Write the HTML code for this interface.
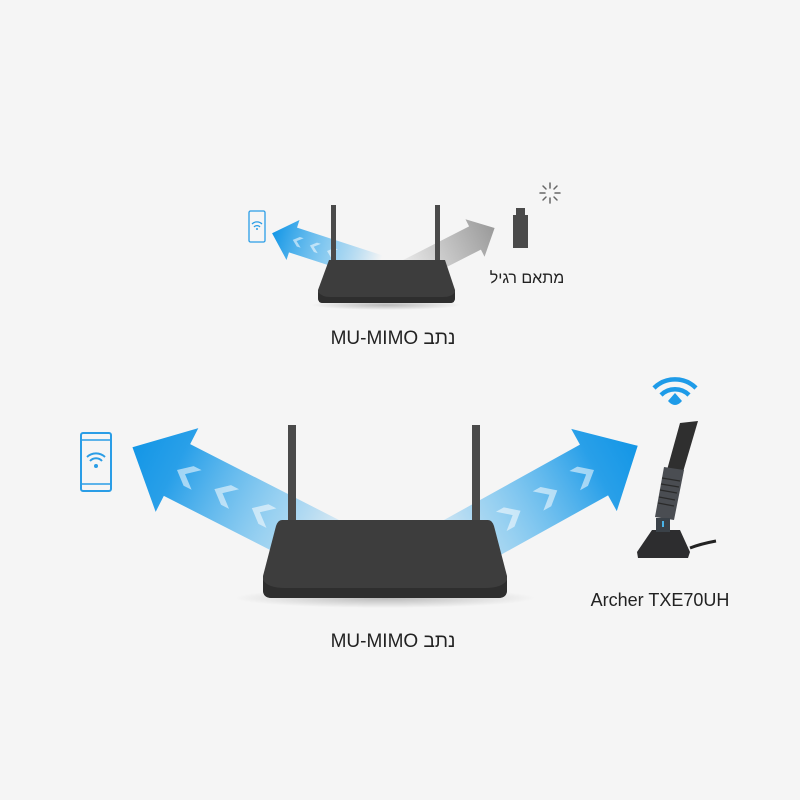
<!DOCTYPE html>
<html><head><meta charset="utf-8"><style>
html,body{margin:0;padding:0;background:#f5f5f5;}
svg{display:block}
text{font-family:"Liberation Sans","Noto Sans CJK SC",sans-serif;fill:#222}
</style></head><body>
<svg width="800" height="800" viewBox="0 0 800 800" xmlns="http://www.w3.org/2000/svg">
<defs>
<linearGradient id="bl" x1="-190" y1="0" x2="50" y2="0" gradientUnits="userSpaceOnUse">
<stop offset="0" stop-color="#1e9be8" stop-opacity="0"/>
<stop offset="0.35" stop-color="#4fb4ee" stop-opacity="0.55"/>
<stop offset="0.8" stop-color="#1e9be8" stop-opacity="0.95"/>
<stop offset="1" stop-color="#1396e6"/>
</linearGradient>
<linearGradient id="bls" x1="-90" y1="0" x2="22" y2="0" gradientUnits="userSpaceOnUse">
<stop offset="0" stop-color="#1e9be8" stop-opacity="0"/>
<stop offset="0.45" stop-color="#4fb4ee" stop-opacity="0.6"/>
<stop offset="1" stop-color="#1396e6"/>
</linearGradient>
<linearGradient id="gr" x1="-90" y1="0" x2="22" y2="0" gradientUnits="userSpaceOnUse">
<stop offset="0" stop-color="#999" stop-opacity="0"/>
<stop offset="1" stop-color="#9a9a9a"/>
</linearGradient>
<radialGradient id="sh" cx="0.5" cy="0.5" r="0.5">
<stop offset="0" stop-color="#000" stop-opacity="0.25"/>
<stop offset="1" stop-color="#000" stop-opacity="0"/>
</radialGradient>
<g id="chev"><polygon points="-8,-11 5,0 -8,11 -17,11 -4,0 -17,-11"/></g>
</defs>

<!-- big arrows -->
<g transform="translate(177,470) rotate(207)">
<polygon points="-200,-29 0,-29 0,-47 50,0 0,47 0,29 -200,29" fill="url(#bl)"/>
<g fill="#fff" opacity="0.55">
<use href="#chev" x="-5"/><use href="#chev" x="-47"/><use href="#chev" x="-89"/>
</g>
</g>
<g transform="translate(594,470) rotate(-29)">
<polygon points="-200,-29 0,-29 0,-47 50,0 0,47 0,29 -200,29" fill="url(#bl)"/>
<g fill="#fff" opacity="0.55">
<use href="#chev" x="-5"/><use href="#chev" x="-47"/><use href="#chev" x="-89"/>
</g>
</g>

<!-- big router -->
<ellipse cx="385" cy="598" rx="150" ry="10" fill="url(#sh)"/>
<rect x="288" y="425" width="8" height="98" fill="#4a4a4a"/>
<rect x="472" y="425" width="8" height="98" fill="#4a4a4a"/>
<path d="M282,520 L488,520 Q492,520 494,526 L507,576 L507,590 Q507,598 498,598 L272,598 Q263,598 263,590 L263,576 L276,526 Q278,520 282,520Z" fill="#3d3d3d"/>
<path d="M263,580 Q268,588 285,588 L485,588 Q502,588 507,580 L507,590 Q507,598 498,598 L272,598 Q263,598 263,590Z" fill="#2e2e2e"/>

<!-- big phone -->
<rect x="81" y="433" width="30" height="58" rx="2" fill="none" stroke="#2a9de6" stroke-width="2"/>
<line x1="81" y1="440" x2="111" y2="440" stroke="#2a9de6" stroke-width="1.5"/>
<line x1="81" y1="484" x2="111" y2="484" stroke="#2a9de6" stroke-width="1.5"/>
<g fill="none" stroke="#2a9de6" stroke-width="2">
<path d="M87,457 a13,13 0 0 1 18,0"/><path d="M90,461 a8,8 0 0 1 12,0"/>
</g>
<circle cx="96" cy="466" r="2" fill="#2a9de6"/>

<!-- Archer -->
<g fill="none" stroke="#1e9be8" stroke-width="4.5" stroke-linecap="butt">
<path d="M654,388 a30,30 0 0 1 42,0"/><path d="M661,395 a20,20 0 0 1 28,0"/>
</g>
<path d="M668,401 l7,-8 l7,8 q-7,8 -14,0z" fill="#1e9be8"/>
<path d="M690,548 Q700,544 716,541" stroke="#222" stroke-width="3" fill="none"/>
<polygon points="680,423 698,421 683,472 667,470" fill="#2f2f2f"/>
<polygon points="664,467 684,470 674,520 655,517" fill="#4a4d52"/>
<g stroke="#2a2a2a" stroke-width="1.2">
<line x1="662" y1="478" x2="680" y2="481"/><line x1="661" y1="484" x2="679" y2="487"/><line x1="660" y1="490" x2="677" y2="493"/><line x1="659" y1="497" x2="675" y2="500"/><line x1="658" y1="503" x2="674" y2="506"/>
</g>
<polygon points="652,530 680,530 690,552 688,558 638,558 637,552" fill="#2d2d2f"/>
<rect x="656" y="518" width="14" height="14" fill="#3a4148"/>
<rect x="662" y="521" width="2" height="6" fill="#4ab4e8"/>

<!-- small arrows -->
<g transform="translate(293,240) rotate(198)">
<polygon points="-95,-13 0,-13 0,-21 22,0 0,21 0,13 -95,13" fill="url(#bls)"/>
<g fill="#fff" opacity="0.55">
<use href="#chev" transform="translate(-2,0) scale(0.45)"/><use href="#chev" transform="translate(-20,0) scale(0.45)"/><use href="#chev" transform="translate(-38,0) scale(0.45)"/>
</g>
</g>
<g transform="translate(475,238) rotate(-27)">
<polygon points="-95,-13 0,-13 0,-21 22,0 0,21 0,13 -95,13" fill="url(#gr)"/>
</g>

<!-- small router -->
<ellipse cx="386" cy="305" rx="75" ry="5" fill="url(#sh)"/>
<rect x="331" y="205" width="5" height="58" fill="#4a4a4a"/>
<rect x="435" y="205" width="5" height="58" fill="#4a4a4a"/>
<path d="M329,260 L445,260 L455,290 L455,298 Q455,303 450,303 L323,303 Q318,303 318,298 L318,290Z" fill="#3d3d3d"/>
<path d="M318,292 Q322,297 330,297 L443,297 Q452,297 455,292 L455,298 Q455,303 450,303 L323,303 Q318,303 318,298Z" fill="#2e2e2e"/>

<!-- small phone -->
<rect x="249" y="211" width="16" height="31" rx="1.5" fill="none" stroke="#2a9de6" stroke-width="1.3"/>
<g fill="none" stroke="#2a9de6" stroke-width="1.3">
<path d="M252,224 a7,7 0 0 1 10,0"/><path d="M254,227 a4,4 0 0 1 6,0"/>
</g>
<circle cx="257" cy="229" r="1" fill="#2a9de6"/>

<!-- usb adapter -->
<rect x="516" y="208" width="9" height="8" fill="#4a4a4a"/>
<rect x="513" y="215" width="15" height="33" fill="#4a4a4a"/>
<g stroke="#666" stroke-width="1.5" stroke-linecap="round">
<line x1="550" y1="183" x2="550" y2="188"/><line x1="550" y1="198" x2="550" y2="203"/>
<line x1="540" y1="193" x2="545" y2="193"/><line x1="555" y1="193" x2="560" y2="193"/>
<line x1="543" y1="186" x2="546" y2="189"/><line x1="554" y1="197" x2="557" y2="200"/>
<line x1="557" y1="186" x2="554" y2="189"/><line x1="543" y1="200" x2="546" y2="197"/>
</g>

<!-- labels -->
<text x="393" y="344" font-size="19" text-anchor="middle" direction="rtl" unicode-bidi="embed">נתב MU-MIMO</text>
<text x="393" y="647" font-size="19" text-anchor="middle" direction="rtl" unicode-bidi="embed">נתב MU-MIMO</text>
<text x="527" y="283" font-size="16" text-anchor="middle">מתאם רגיל</text>
<text x="660" y="606" font-size="18" text-anchor="middle">Archer TXE70UH</text>
</svg>
</body></html>
